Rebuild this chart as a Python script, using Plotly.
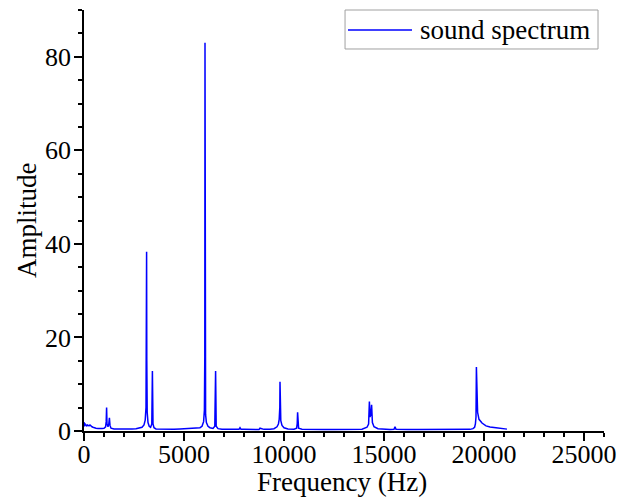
import plotly.graph_objects as go

# Frequency (Hz) and amplitude samples
freq = [0, 20, 40, 60, 90, 130, 170, 210, 250, 300, 350, 400, 450, 500, 600, 700, 800, 900,
        1000, 1080, 1110, 1130, 1150, 1200, 1240, 1270, 1300, 1350, 1500, 1800, 2100, 2400,
        2600, 2800, 2900, 3000, 3060, 3100, 3120, 3130, 3140, 3160, 3200, 3260, 3330, 3390,
        3420, 3450, 3500, 3600, 3900, 4200, 4500, 4800, 5100, 5400, 5600, 5800, 5900, 5980,
        6020, 6040, 6050, 6060, 6080, 6120, 6200, 6300, 6450, 6540, 6580, 6610, 6700, 6900,
        7200, 7500, 7750, 7800, 7850, 8000, 8300, 8600, 8750, 8800, 9000, 9300, 9500, 9650,
        9720, 9760, 9790, 9800, 9810, 9840, 9900, 10000, 10200, 10500, 10630, 10660, 10680,
        10700, 10730, 10900, 11200, 11600, 12000, 12500, 13000, 13500, 13900, 14150, 14230,
        14270, 14300, 14340, 14380, 14420, 14500, 14700, 15000, 15300, 15500, 15550, 15600,
        15800, 16200, 16700, 17100, 17330, 17500, 18000, 18500, 19000, 19300, 19450, 19530,
        19570, 19600, 19620, 19650, 19680, 19750, 19900, 20100, 20300, 20600, 20900, 21150]

amplitude = [1.9, 1.0, 1.7, 1.2, 1.4, 1.0, 1.3, 1.2, 1.1, 1.3, 1.0, 0.9, 0.8, 0.7, 0.6, 0.55,
             0.5, 0.55, 0.6, 0.9, 2.0, 5.0, 1.5, 0.9, 1.5, 2.8, 1.2, 0.6, 0.45, 0.4, 0.45, 0.45,
             0.5, 0.6, 0.8, 1.3, 2.3, 5.0, 25.0, 38.3, 15.0, 4.0, 1.8, 1.0, 0.8, 1.5,
             12.8, 1.5, 0.7, 0.45, 0.4, 0.45, 0.4, 0.45, 0.5, 0.5, 0.55, 0.7, 1.0, 2.0,
             4.5, 16.0, 83.0, 10.0, 3.5, 1.8, 1.0, 0.7, 0.55, 1.0, 12.8, 1.0, 0.5, 0.4,
             0.35, 0.35, 0.35, 0.7, 0.35, 0.35, 0.3, 0.35, 0.3, 0.6, 0.35, 0.4, 0.5, 0.9,
             1.5, 2.5, 5.0, 10.5, 5.0, 2.2, 1.2, 0.7, 0.45, 0.4, 0.6, 1.5, 4.0,
             1.5, 0.6, 0.4, 0.35, 0.3, 0.3, 0.3, 0.3, 0.35, 0.4, 0.8, 1.5,
             6.3, 3.0, 3.5, 5.6, 1.8, 0.9, 0.5, 0.35, 0.3, 0.35, 0.9, 0.35,
             0.3, 0.3, 0.3, 0.3, 0.45, 0.3, 0.3, 0.3, 0.35, 0.35, 0.5, 0.8, 1.5,
             3.0, 13.7, 7.6, 4.0, 2.5, 1.7, 1.1, 0.85, 0.7, 0.5, 0.4, 0.35]

series_name = "sound spectrum"
x_title = "Frequency (Hz)"
y_title = "Amplitude"

FONT = "Liberation Serif, Times New Roman, serif"
LINE_COLOR = "#0000ff"

fig = go.Figure()
fig.add_trace(go.Scatter(
    x=freq, y=amplitude, mode="lines", name=series_name, showlegend=False,
    line=dict(color=LINE_COLOR, width=1.5),
))

axis_common = dict(
    showgrid=False, zeroline=False, showline=True, linecolor="black", linewidth=1.5,
    ticks="outside", ticklen=8, tickwidth=1.5, tickcolor="black",
    tickfont=dict(family=FONT, size=26, color="black"),
    mirror=False, automargin=False, tickformat="d",
)

fig.update_layout(
    width=621, height=500,
    margin=dict(l=84, r=17, t=10, b=69),
    paper_bgcolor="white", plot_bgcolor="white",
    font=dict(family=FONT, color="black"),
    xaxis=dict(
        range=[0, 26000], dtick=5000, tick0=0, ticklabelstandoff=-9,
        minor=dict(dtick=1000, ticks="outside", ticklen=4, tickwidth=1.5, tickcolor="black"),
        **axis_common,
    ),
    yaxis=dict(
        range=[0, 90], dtick=20, tick0=0, ticklabelstandoff=-2,
        minor=dict(dtick=5, ticks="outside", ticklen=4, tickwidth=1.5, tickcolor="black"),
        **axis_common,
    ),
    showlegend=False,
)

# Axis titles
fig.add_annotation(text=x_title, xref="paper", yref="paper", x=0.497, y=-0.122,
                   xanchor="center", yanchor="middle", showarrow=False,
                   font=dict(family=FONT, size=27, color="black"))
fig.add_annotation(text=y_title, xref="paper", yref="paper", x=-0.1096, y=0.501,
                   xanchor="center", yanchor="middle", showarrow=False, textangle=-90,
                   font=dict(family=FONT, size=27, color="black"))

# Legend box drawn to match the reference (long sample line)
fig.add_shape(type="rect", xref="paper", yref="paper",
              x0=0.502, x1=0.9885, y0=0.9074, y1=1.0,
              line=dict(color="#a0a0a0", width=1), fillcolor="white", layer="above")
fig.add_shape(type="line", xref="paper", yref="paper",
              x0=0.5077, x1=0.6308, y0=0.9525, y1=0.9525,
              line=dict(color=LINE_COLOR, width=1.5), layer="above")
fig.add_annotation(text=series_name, xref="paper", yref="paper",
                   x=0.6423, y=0.9525, xanchor="left", yanchor="middle", showarrow=False,
                   font=dict(family=FONT, size=27, color="black"))

fig.write_html("out.html")
